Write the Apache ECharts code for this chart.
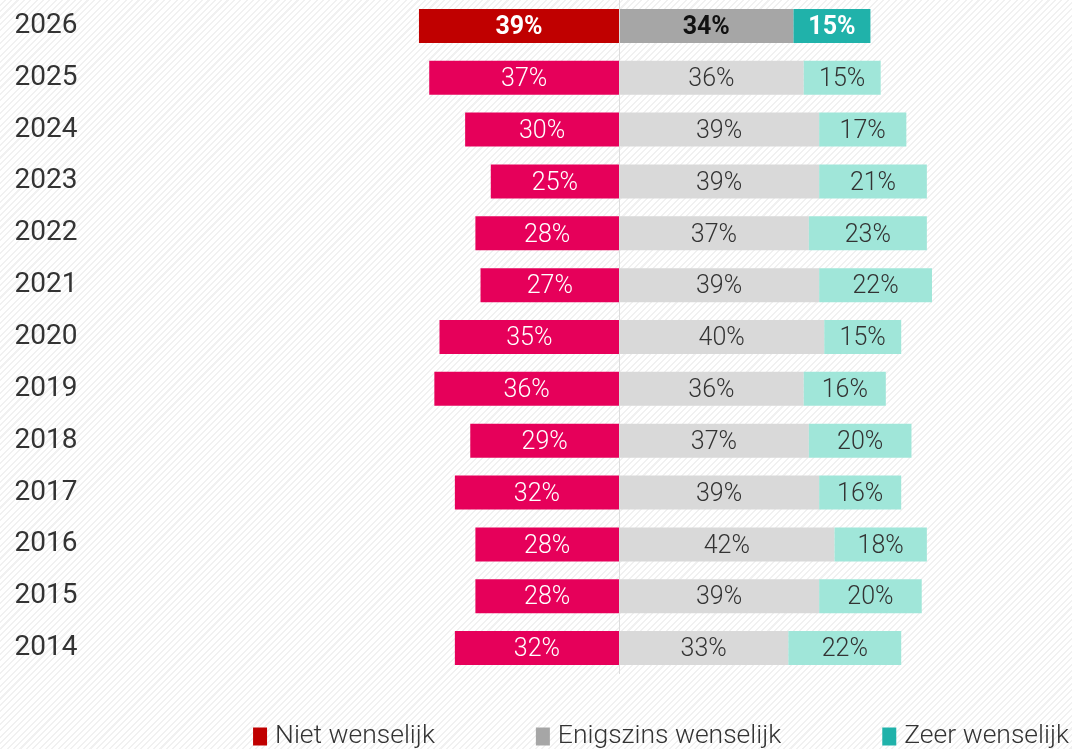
<!DOCTYPE html>
<html>
<head>
<meta charset="utf-8">
<script src="https://cdn.jsdelivr.net/npm/echarts@6/dist/echarts.min.js"></script>
<style>
html,body{margin:0;padding:0;}
body{background:#fff repeating-linear-gradient(135deg,#fff 0px,#fff 3px,#f1f1f1 3px,#f1f1f1 4.5px);}
#chart{width:1072px;height:749px;}
</style>
</head>
<body>
<div id="chart"></div>
<script>
// data
var years = ["2026","2025","2024","2023","2022","2021","2020","2019","2018","2017","2016","2015","2014"];
var niet = [39,37,30,25,28,27,35,36,29,32,28,28,32];
var enigszins = [34,36,39,39,37,39,40,36,37,39,42,39,33];
var zeer = [15,15,17,21,23,22,15,16,20,16,18,20,22];

var myChart = echarts.init(document.getElementById("chart"));
var font = "Roboto";

// first row (2026) is highlighted
function items(vals, sign, color, lightColor, txt, lightTxt){
    return vals.map(function(v, i){
        var hl = i === 0;
        return {
            value: sign * v,
            itemStyle: {color: hl ? color : lightColor},
            label: {color: hl ? txt : lightTxt, fontWeight: hl ? "bold" : 300}
        };
    });
}

function serie(name, data, color, withLine){
    var s = {
        name: name,
        type: "bar",
        stack: "a",
        barWidth: 34,
        color: color,
        data: data,
        label: {
            show: true,
            position: "inside",
            offset: [0, 2],
            fontFamily: font,
            fontSize: 25,
            formatter: function(p){ return Math.abs(p.value) + "%"; }
        }
    };
    if(withLine){
        s.markLine = {
            silent: true,
            symbol: "none",
            label: {show: false},
            lineStyle: {color: "#dddddd", width: 1, type: "solid"},
            data: [{xAxis: 0}]
        };
    }
    return s;
}

var option = {
    animation: false,
    textStyle: {fontFamily: font},
    grid: {left: 85.5, width: 985, top: -4, height: 678},
    legend: {
        right: -2,
        bottom: -6,
        itemGap: 101,
        itemWidth: 14,
        itemHeight: 18,
        icon: "rect",
        textStyle: {fontFamily: font, fontSize: 26.5, color: "#333", fontWeight: 300, padding: [0, 0, 0, 3]},
        data: ["Niet wenselijk","Enigszins wenselijk","Zeer wenselijk"]
    },
    xAxis: {
        type: "value",
        min: -104,
        max: 88,
        show: false
    },
    yAxis: {
        type: "category",
        inverse: true,
        data: years,
        axisLine: {show: false},
        axisTick: {show: false},
        axisLabel: {fontFamily: font, fontSize: 28, color: "#333", margin: 8}
    },
    series: [
        serie("Niet wenselijk", items(niet, -1, "#c00000", "#e6005a", "#ffffff", "#ffffff"), "#c00000", true),
        serie("Enigszins wenselijk", items(enigszins, 1, "#a6a6a6", "#d9d9d9", "#111111", "#333333"), "#a6a6a6", false),
        serie("Zeer wenselijk", items(zeer, 1, "#20b2aa", "#a0e6d9", "#ffffff", "#333333"), "#20b2aa", false)
    ]
};
myChart.setOption(option);
</script>
</body>
</html>
